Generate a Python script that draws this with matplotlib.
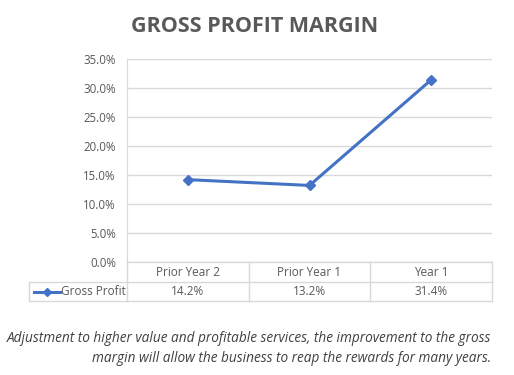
import matplotlib.pyplot as plt
from matplotlib.lines import Line2D

# data
categories = ["Prior Year 2", "Prior Year 1", "Year 1"]
gross_profit = [14.2, 13.2, 31.4]
yticks = [0, 5, 10, 15, 20, 25, 30, 35]

LINE = "#4472C4"
GRID = "#D9D9D9"
TXT = "#595959"
FONT = "Open Sans"

W, H = 514, 375
fig = plt.figure(figsize=(W / 100, H / 100), dpi=100)

def fx(px):
    return px / W

def fy(py):
    return 1 - py / H

# plot area
x0, x1 = 127, 492
y_top, y_bot = 59, 262
ax = fig.add_axes([fx(x0), fy(y_bot), fx(x1) - fx(x0), fy(y_top) - fy(y_bot)])
xs = list(range(len(categories)))
ax.plot(xs, gross_profit, color=LINE, lw=2.2, marker="D", ms=5.5, zorder=3)
ax.set_xlim(-0.5, len(categories) - 0.5)
ax.set_ylim(0, 35)
ax.set_yticks(yticks)
ax.set_yticklabels([f"{v:.1f}%" for v in yticks], fontsize=8.3, color=TXT, family=FONT)
ax.set_xticks([])
ax.tick_params(axis="y", length=0, pad=8)
ax.grid(axis="y", color=GRID, lw=1)
for s in ["top", "right", "bottom"]:
    ax.spines[s].set_visible(False)
ax.spines["left"].set_color(GRID)

# data table
r0, r1, r2 = 262, 282, 301
key_left = 29
col_w = (x1 - x0) / len(categories)
bx = [fx(x0 + i * col_w) for i in range(len(categories) + 1)]

def hline(y, xa, xb):
    fig.add_artist(Line2D([fx(xa), fx(xb)], [fy(y), fy(y)], color=GRID, lw=1))

def vline(x, ya, yb):
    fig.add_artist(Line2D([x, x], [fy(ya), fy(yb)], color=GRID, lw=1))

hline(r0, x0, x1)
hline(r1, key_left, x1)
hline(r2, key_left, x1)
for b in bx:
    vline(b, r0, r2)
vline(fx(key_left), r1, r2)

for i, cat in enumerate(categories):
    cx = (bx[i] + bx[i + 1]) / 2
    fig.text(cx, fy((r0 + r1) / 2), cat, ha="center", va="center",
             fontsize=8.5, color=TXT, family=FONT)
    fig.text(cx, fy((r1 + r2) / 2), f"{gross_profit[i]:.1f}%", ha="center", va="center",
             fontsize=8.5, color=TXT, family=FONT)

# legend key
ky = fy((r1 + r2) / 2)
fig.add_artist(Line2D([fx(34), fx(60)], [ky, ky], color=LINE, lw=2.2))
fig.add_artist(Line2D([fx(47)], [ky], color=LINE, marker="D", ms=4))
fig.text(fx(61), ky, "Gross Profit", ha="left", va="center",
         fontsize=8.5, color=TXT, family=FONT)

# title
fig.text(fx(255), fy(27), "GROSS PROFIT MARGIN", ha="center", va="center",
         fontsize=15.5, fontweight="bold", color=TXT, family=FONT)

# caption
fig.text(fx(491), fy(339), "Adjustment to higher value and profitable services, the improvement to the gross",
         ha="right", va="center", fontsize=9.8, style="italic", color="#404040", family=FONT)
fig.text(fx(491), fy(359), "margin will allow the business to reap the rewards for many years.",
         ha="right", va="center", fontsize=9.8, style="italic", color="#404040", family=FONT)

fig.savefig("out.png", dpi=100)
